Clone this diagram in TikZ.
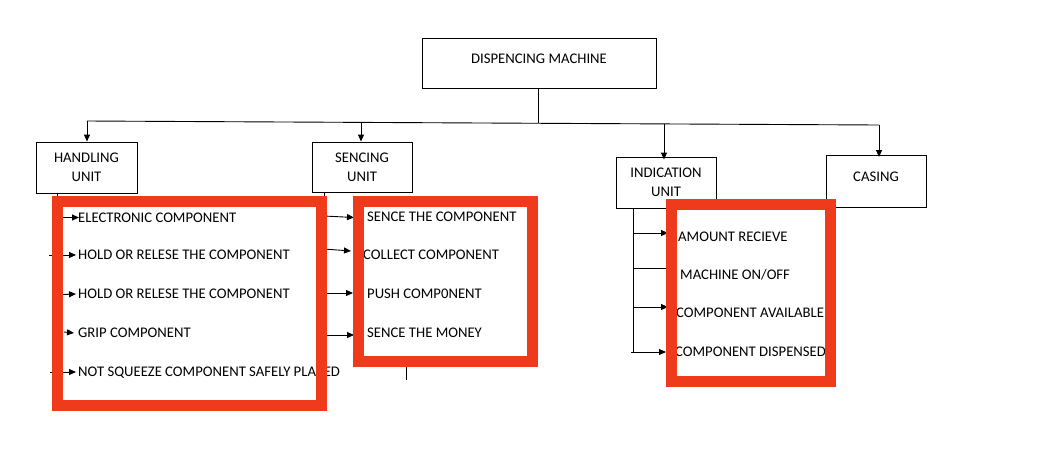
\documentclass[tikz,border=0pt]{standalone}
\usepackage{fontspec}
\setmainfont{Carlito}
\usetikzlibrary{arrows.meta}
\definecolor{frameRed}{RGB}{240,58,28}
\tikzset{
  ln/.style={draw=black, line width=0.9pt},
  arr/.style={ln, -{Triangle[length=7pt,width=6pt]}},
  unitbox/.style={draw=black, line width=0.9pt, inner sep=0pt, align=center,
    font=\fontsize{14.7}{19}\selectfont},
  item/.style={inner sep=0pt, anchor=west, text height=9.5pt, text depth=0pt,
    font=\fontsize{14.7}{18}\selectfont},
  redframe/.style={draw=frameRed, line width=11pt},
}
\begin{document}
\begin{tikzpicture}[x=1pt,y=-1pt]
\useasboundingbox (0,0) rectangle (1051,448);

% main boxes
\node[unitbox, minimum width=234pt, text height=24.75pt, text depth=25.25pt, anchor=north] (dm) at (539,38) {DISPENCING MACHINE};
\node[unitbox, minimum width=101pt, minimum height=51pt] (hu) at (86.5,167.5) {HANDLING\\UNIT};
\node[unitbox, minimum width=100pt, minimum height=50pt] (su) at (362,167) {SENCING\\UNIT};
\node[unitbox, minimum width=100pt, minimum height=51pt] (iu) at (666,182.5) {INDICATION\\UNIT};
\node[unitbox, minimum width=100pt, text height=25.75pt, text depth=26.25pt, anchor=north] (cu) at (876,155) {CASING};

% bus
\coordinate (bL) at (87,121);
\coordinate (bS) at (361,122.4);
\coordinate (bM) at (538,123.3);
\coordinate (bI) at (664,124);
\coordinate (bR) at (879,125);
\draw[ln] (dm.south -| bM) -- (bM);
\draw[ln] (bL) -- (bR);
\draw[arr] (bL) -- (hu.north -| bL);
\draw[arr] (bS) -- (su.north -| bS);
\draw[arr] (bI) -- ([yshift=-3pt]iu.north -| bI);
\draw[arr] (bR) -- ([yshift=-2pt]cu.north -| bR);

% handling items
\node[item] (h1) at (78,217.5) {ELECTRONIC COMPONENT};
\node[item] (h2) at (78,255) {HOLD OR RELESE THE COMPONENT};
\node[item] (h3) at (78,294) {HOLD OR RELESE THE COMPONENT};
\node[item] (h4) at (78,333) {GRIP COMPONENT};
\node[item] (h5) at (78,372) {NOT SQUEEZE COMPONENT SAFELY PLACED};
\coordinate (hv) at (57,193);
\draw[ln] (hv) -- (57,372);
\draw[arr] (63,217.5) -- ([xshift=1pt]h1.west);
\draw[arr] (49,255) -- ([xshift=-2pt]h2.west);
\draw[arr] (63,294.5) -- ([xshift=-2pt]h3.west);
\draw[arr] (64,332) -- ([xshift=-4pt]h4.west);
\draw[arr] (50,372) -- ([xshift=-2pt]h5.west);

% sencing items
\node[item] (s1) at (367,217) {SENCE THE COMPONENT};
\node[item] (s2) at (363,255) {COLLECT COMPONENT};
\node[item] (s3) at (367,294) {PUSH COMP0NENT};
\node[item] (s4) at (367,333) {SENCE THE MONEY};
\coordinate (sv) at (324,192);
\draw[ln] (sv) -- (324,335);
\draw[arr] (324,216) -- (354,217.5);
\draw[arr] (324,249) -- (351,251);
\draw[arr] (324,293) -- (353,293);
\draw[arr] (324,335) -- (354,335);
\coordinate (t1) at (406,367);
\coordinate (t2) at (406,380);
\draw[ln] (t1) -- (t2);

% indication items
\node[item] (i1) at (678,237) {AMOUNT RECIEVE};
\node[item] (i2) at (680,275) {MACHINE ON/OFF};
\node[item] (i3) at (676,313) {COMPONENT AVAILABLE};
\node[item] (i4) at (675,352) {COMPONENT DISPENSED};
\coordinate (iv) at (633,208);
\draw[ln] (iv) -- (633,352);
\draw[arr] (633,233) -- (668,233);
\draw[ln] (633,268) -- (666,268);
\draw[arr] (633,307) -- (668,307);
\draw[arr] (631,352) -- (666,352);

% red highlight frames
\draw[redframe] (57.5,201.5) rectangle (321.5,405);
\draw[redframe] (358.5,201.5) rectangle (532.5,361.5);
\draw[redframe] (671,204.5) rectangle (830.5,381.5);
\end{tikzpicture}
\end{document}
